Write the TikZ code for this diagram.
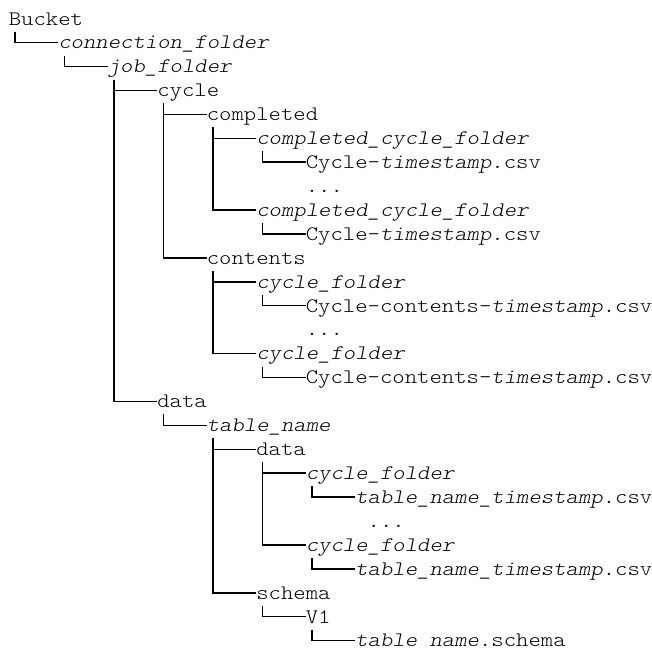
\documentclass[tikz,border=0pt]{standalone}
\usepackage{fontspec}
\newfontfamily\treemono{lmmonolt10-regular.otf}[ItalicFont=lmmonolt10-oblique.otf, FakeStretch=1.1427]
\usetikzlibrary{calc}
\begin{document}
\begin{tikzpicture}[x=0.75pt,y=-0.75pt,
  entry/.style={anchor=base west,inner sep=0pt,outer sep=0pt,text=black,
    font={\treemono\fontsize{15.47pt}{18pt}\selectfont}},
  tree/.style={draw=black,line width=1.1pt,line cap=butt}]
\useasboundingbox (0,0) rectangle (651,654);
\def\cx#1{8.8+12.375*#1}
\def\ry#1{25+23.92*(#1-1)}
% entries
\node[entry] (bucket)    at ({\cx{0}},{\ry{1}})  {Bucket};
\node[entry] (conn)      at ({\cx{4}},{\ry{2}})  {\textit{connection\textunderscore folder}};
\node[entry] (job)       at ({\cx{8}},{\ry{3}})  {\textit{job\textunderscore folder}};
\node[entry] (cycle)     at ({\cx{12}},{\ry{4}}) {cycle};
\node[entry] (completed) at ({\cx{16}},{\ry{5}}) {completed};
\node[entry] (ccf1)      at ({\cx{20}},{\ry{6}}) {\textit{completed\textunderscore cycle\textunderscore folder}};
\node[entry] (cts1)      at ({\cx{24}},{\ry{7}}) {Cycle-\textit{timestamp}.csv};
\node[entry] (dots1)     at ({\cx{24}},{\ry{8}}) {...};
\node[entry] (ccf2)      at ({\cx{20}},{\ry{9}}) {\textit{completed\textunderscore cycle\textunderscore folder}};
\node[entry] (cts2)      at ({\cx{24}},{\ry{10}}) {Cycle-\textit{timestamp}.csv};
\node[entry] (contents)  at ({\cx{16}},{\ry{11}}) {contents};
\node[entry] (cf1)       at ({\cx{20}},{\ry{12}}) {\textit{cycle\textunderscore folder}};
\node[entry] (cct1)      at ({\cx{24}},{\ry{13}}) {Cycle-contents-\textit{timestamp}.csv};
\node[entry] (dots2)     at ({\cx{24}},{\ry{14}}) {...};
\node[entry] (cf2)       at ({\cx{20}},{\ry{15}}) {\textit{cycle\textunderscore folder}};
\node[entry] (cct2)      at ({\cx{24}},{\ry{16}}) {Cycle-contents-\textit{timestamp}.csv};
\node[entry] (data)      at ({\cx{12}},{\ry{17}}) {data};
\node[entry] (tname)     at ({\cx{16}},{\ry{18}}) {\textit{table\textunderscore name}};
\node[entry] (tdata)     at ({\cx{20}},{\ry{19}}) {data};
\node[entry] (tcf1)      at ({\cx{24}},{\ry{20}}) {\textit{cycle\textunderscore folder}};
\node[entry] (tts1)      at ({\cx{28}},{\ry{21}}) {\textit{table\textunderscore name\textunderscore timestamp}.csv};
\node[entry] (dots3)     at ({\cx{29}},{\ry{22}}) {...};
\node[entry] (tcf2)      at ({\cx{24}},{\ry{23}}) {\textit{cycle\textunderscore folder}};
\node[entry] (tts2)      at ({\cx{28}},{\ry{24}}) {\textit{table\textunderscore name\textunderscore timestamp}.csv};
\node[entry] (schema)    at ({\cx{20}},{\ry{25}}) {schema};
\node[entry] (v1)        at ({\cx{24}},{\ry{26}}) {V1};
\node[entry] (sch)       at ({\cx{28}},{\ry{27}}) {\textit{table name}.schema};
% connectors
\foreach \p/\c in {bucket/conn, conn/job, job/cycle, job/data, cycle/completed, cycle/contents,
  completed/ccf1, completed/ccf2, ccf1/cts1, ccf2/cts2, contents/cf1, contents/cf2,
  cf1/cct1, cf2/cct2, data/tname, tname/tdata, tname/schema, tdata/tcf1, tdata/tcf2,
  tcf1/tts1, tcf2/tts2, schema/v1, v1/sch}
  \draw[tree] ($(\p.base west)+(6.19,6.7)$) |- ($(\c.base west)+(0,-6.3)$);
\end{tikzpicture}
\end{document}
